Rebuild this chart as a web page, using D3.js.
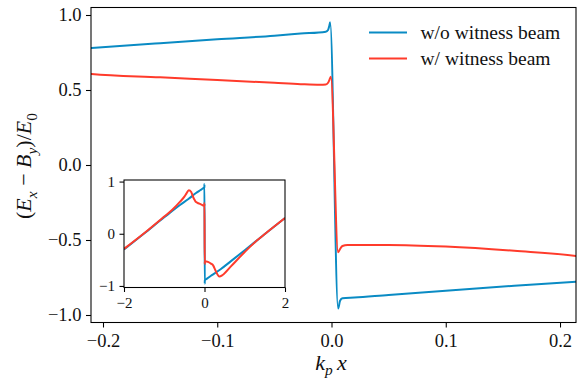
<!DOCTYPE html>
<html>
<head>
<meta charset="utf-8">
<script src="https://cdnjs.cloudflare.com/ajax/libs/d3/7.8.5/d3.min.js"></script>
<style>
  html, body { margin: 0; padding: 0; background: #fff; }
  svg { display: block; }
</style>
</head>
<body>
<svg id="chart" width="588" height="379"></svg>
<script>
// values (x in k_p x, y in (E_x - B_y)/E_0)
const seriesNames = ['w/o witness beam', 'w/ witness beam'];

const blueX = [-2.0, -1.5, -1.0, -0.6, -0.4, -0.21, -0.15, -0.1, -0.05, -0.027, -0.005, -0.003, -0.002, -0.0012,
  0.0058, 0.0075, 0.0096, 0.02, 0.05, 0.1, 0.16, 0.214, 0.4, 0.65, 1.0, 1.5, 2.0];
const blueY = [-0.30, 0.005, 0.315, 0.555, 0.665, 0.78, 0.812, 0.838, 0.862, 0.876, 0.889, 0.9, 0.925, 0.951,
  -0.956, -0.905, -0.889, -0.884, -0.866, -0.839, -0.805, -0.778, -0.68, -0.53, -0.315, -0.005, 0.30];

const redX = [-2.0, -1.5, -1.0, -0.8, -0.6, -0.5, -0.45, -0.39, -0.33, -0.28, -0.24, -0.21, -0.15, -0.1, -0.05,
  -0.027, -0.01, -0.005, -0.003, -0.0018, -0.0006, 0.0058, 0.0075, 0.0096, 0.014, 0.05, 0.1, 0.16, 0.214,
  0.27, 0.37, 0.45, 0.65, 1.0, 1.3, 1.5, 2.0];
const redY = [-0.29, 0.01, 0.33, 0.46, 0.62, 0.71, 0.77, 0.835, 0.80, 0.70, 0.64, 0.607, 0.585, 0.567, 0.548,
  0.539, 0.535, 0.537, 0.548, 0.568, 0.589, -0.582, -0.56, -0.54, -0.533, -0.533, -0.544, -0.572, -0.607,
  -0.70, -0.82, -0.79, -0.63, -0.35, -0.13, -0.005, 0.30];

const mainXTicks = [-0.2, -0.1, 0, 0.1, 0.2];
const mainYTicks = [-1, -0.5, 0, 0.5, 1];
const insetXTicks = [-2, 0, 2];
const insetYTicks = [-1, 0, 1];

const colors = ['#0a8bc4', '#ff3b2b'];

const fontStack = '"Liberation Serif", "Times New Roman", serif';

const svg = d3.select('#chart').style('font-family', fontStack);

const mainBox = { left: 91, right: 576, top: 7.5, bottom: 322.5 };
const insetBox = { left: 124, right: 285, top: 180, bottom: 287.5 };

const x = d3.scaleLinear().domain([-0.2105, 0.214]).range([mainBox.left, mainBox.right]);
const y = d3.scaleLinear().domain([-1.05, 1.05]).range([mainBox.bottom, mainBox.top]);
const xi = d3.scaleLinear().domain([-2, 2]).range([insetBox.left, insetBox.right]);
const yi = d3.scaleLinear().domain([-1.03, 1.03]).range([insetBox.bottom, insetBox.top]);

const series = [
  { name: seriesNames[0], color: colors[0], pts: blueX.map((v, i) => [v, blueY[i]]) },
  { name: seriesNames[1], color: colors[1], pts: redX.map((v, i) => [v, redY[i]]) },
];

const defs = svg.append('defs');
function addClip(id, box) {
  defs.append('clipPath').attr('id', id)
    .append('rect')
    .attr('x', box.left).attr('y', box.top)
    .attr('width', box.right - box.left).attr('height', box.bottom - box.top);
}
addClip('clip-main', mainBox);
addClip('clip-inset', insetBox);

function drawPanel(sx, sy, box, clipId, opts) {
  const g = svg.append('g');

  g.append('rect')
    .attr('x', box.left).attr('y', box.top)
    .attr('width', box.right - box.left).attr('height', box.bottom - box.top)
    .attr('fill', '#fff');

  const line = d3.line()
    .x(d => sx(d[0]))
    .y(d => sy(d[1]))
    .curve(d3.curveMonotoneX);

  g.append('g')
    .attr('clip-path', `url(#${clipId})`)
    .selectAll('path')
    .data(series)
    .join('path')
    .attr('d', d => line(d.pts))
    .attr('fill', 'none')
    .attr('stroke', d => d.color)
    .attr('stroke-width', 2)
    .attr('stroke-linejoin', 'round');

  // axes
  const xa = g.append('g')
    .attr('transform', `translate(0,${box.bottom})`)
    .call(d3.axisBottom(sx).tickValues(opts.xTicks).tickFormat(opts.fmtX)
      .tickSize(opts.tickLen).tickSizeOuter(0).tickPadding(opts.padX));
  const ya = g.append('g')
    .attr('transform', `translate(${box.left},0)`)
    .call(d3.axisLeft(sy).tickValues(opts.yTicks).tickFormat(opts.fmtY)
      .tickSize(opts.tickLen).tickSizeOuter(0).tickPadding(opts.padY));

  [xa, ya].forEach(a => {
    a.attr('font-family', null).attr('font-size', null);
    a.select('.domain').remove();
    a.selectAll('.tick line').attr('stroke', '#000').attr('stroke-width', 1.07);
    a.selectAll('.tick text')
      .attr('fill', '#111')
      .style('font-family', fontStack)
      .style('font-size', opts.fontSize + 'px');
  });

  g.append('rect')
    .attr('x', box.left).attr('y', box.top)
    .attr('width', box.right - box.left).attr('height', box.bottom - box.top)
    .attr('fill', 'none')
    .attr('stroke', '#000')
    .attr('stroke-width', 1.07);

  return g;
}

drawPanel(x, y, mainBox, 'clip-main', {
  xTicks: mainXTicks, yTicks: mainYTicks,
  fmtX: d3.format('.1f'), fmtY: d3.format('.1f'),
  tickLen: 5, padX: 6.5, padY: 4.5, fontSize: 18.5,
});

// legend (no frame)
const legend = svg.append('g').attr('class', 'legend');
series.forEach((s, i) => {
  const ly = 32.5 + i * 26;
  legend.append('line')
    .attr('x1', 369).attr('x2', 407)
    .attr('y1', ly).attr('y2', ly)
    .attr('stroke', s.color).attr('stroke-width', 2);
  legend.append('text')
    .attr('x', 420.5).attr('y', ly + 6.5)
    .attr('fill', '#111')
    .style('font-family', fontStack)
    .style('font-size', '19.5px')
    .text(s.name);
});

// axis labels with italic math pieces
function mathText(sel, parts, size) {
  parts.forEach(p => {
    const t = sel.append('tspan').text(p.t);
    if (p.i) t.style('font-style', 'italic');
    if (p.sub) t.style('font-size', (size * 0.7) + 'px').attr('dy', size * 0.25);
    if (p.back) t.attr('dy', -size * 0.25);
  });
}

const yLab = svg.append('text')
  .attr('transform', 'translate(31,166) rotate(-90)')
  .attr('text-anchor', 'middle')
  .attr('fill', '#111')
  .style('font-family', fontStack)
  .style('font-size', '22px');
mathText(yLab, [
  { t: '(' }, { t: 'E', i: true }, { t: 'x', i: true, sub: true },
  { t: ' − ', back: true }, { t: 'B', i: true }, { t: 'y', i: true, sub: true },
  { t: ')/', back: true }, { t: 'E', i: true }, { t: '0', sub: true },
], 22);

const xLab = svg.append('text')
  .attr('x', 331).attr('y', 369.5)
  .attr('text-anchor', 'middle')
  .attr('fill', '#111')
  .style('font-family', fontStack)
  .style('font-size', '22px');
mathText(xLab, [
  { t: 'k', i: true }, { t: 'p', i: true, sub: true }, { t: '\u2009x', i: true, back: true },
], 22);

// inset
drawPanel(xi, yi, insetBox, 'clip-inset', {
  xTicks: insetXTicks, yTicks: insetYTicks,
  fmtX: d3.format('d'), fmtY: d3.format('d'),
  tickLen: 4.5, padX: 5.5, padY: 4.5, fontSize: 15,
});
</script>
</body>
</html>
